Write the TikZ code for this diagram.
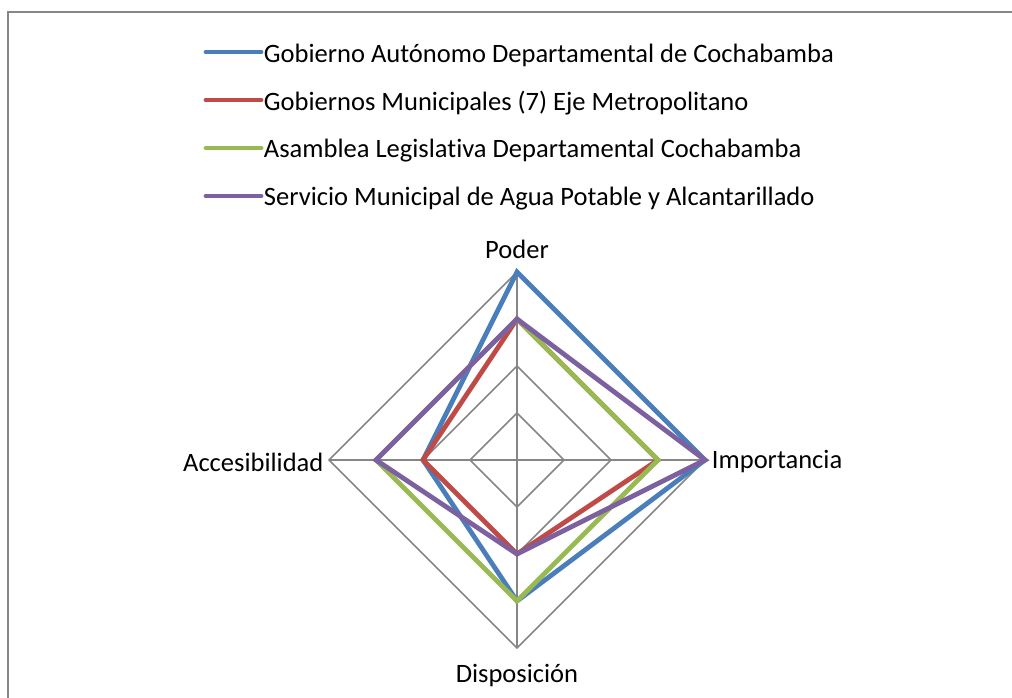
\documentclass[tikz,border=0pt]{standalone}
\usepackage{fontspec}
\setmainfont{Carlito}[RawFeature=-liga]
\usetikzlibrary{positioning}
\definecolor{serA}{HTML}{4A7EBB}
\definecolor{serB}{HTML}{BE4B48}
\definecolor{serC}{HTML}{98B954}
\definecolor{serD}{HTML}{7D60A0}
\definecolor{gridc}{HTML}{868686}

\begin{document}
\begin{tikzpicture}[x=0.75pt, y=-0.75pt, font=\fontsize{19.9}{23}\selectfont,
    grid/.style = {draw=gridc, line width=1.1pt},
    series/.style = {line width=3.6pt, line join=miter},
    key/.style = {line width=3.6pt, line cap=round},
    lbl/.style = {inner sep=0pt}]
    \useasboundingbox (0,0) rectangle (1012,698);
    \draw[gridc, line width=1.5pt] (1012,12) -- (8,12) -- (8,698);
    % axis points, 47px per step
    \foreach \r in {1,...,4} {
        \coordinate (p\r) at (517,460-47*\r);
        \coordinate (i\r) at (517+47*\r,460);
        \coordinate (d\r) at (517,460+47*\r);
        \coordinate (a\r) at (517-47*\r,460);
        \draw[grid] (p\r) -- (i\r) -- (d\r) -- (a\r) -- cycle;
    }
    \coordinate (o) at (517,460);
    \draw[grid] (o) -- (p4);
    \draw[grid] (o) -- (i4);
    \draw[grid] (o) -- (d4);
    \draw[grid] (o) -- (a4);
    \node[lbl, above=10pt of p4] (poder) {Poder};
    \node[lbl, right=5pt of i4, yshift=-1.5pt] (imp) {Importancia};
    \node[lbl, below=12pt of d4] (disp) {Disposición};
    \node[lbl, left=4pt of a4, yshift=-1.5pt] (acc) {Accesibilidad};
    % series
    \draw[series, serA] (p4) -- (i4) -- (d3) -- (a2) -- cycle;
    \draw[series, serB] (p3) -- (i3) -- (d2) -- (a2) -- cycle;
    \draw[series, serC] (p3) -- (i3) -- (d3) -- (a3) -- cycle;
    \draw[series, serD] (p3) -- (i4) -- (d2) -- (a3) -- cycle;
    % legend
    \foreach \n/\c/\y/\t in {1/serA/52/Gobierno Autónomo Departamental de Cochabamba,
        2/serB/100/Gobiernos Municipales (7) Eje Metropolitano,
        3/serC/148/Asamblea Legislativa Departamental Cochabamba,
        4/serD/196/Servicio Municipal de Agua Potable y Alcantarillado} {
        \coordinate (k\n) at (206,\y);
        \coordinate (e\n) at (261,\y);
        \draw[key, \c] (k\n) -- (e\n);
        \node[lbl, anchor=west, xshift=2pt, yshift=-2.2pt] (t\n) at (e\n) {\t};
    }
\end{tikzpicture}
\end{document}
